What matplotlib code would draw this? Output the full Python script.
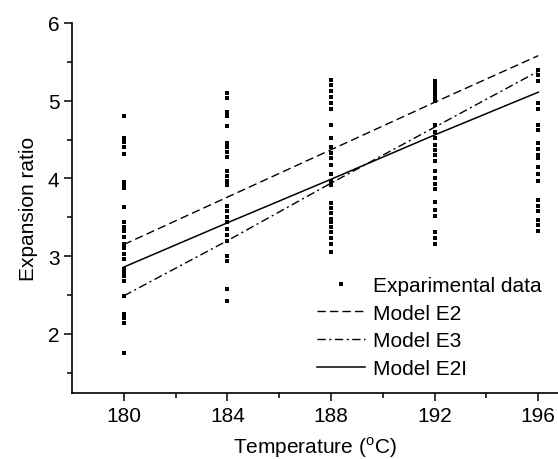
import numpy as np
import matplotlib
matplotlib.use("Agg")
import matplotlib.pyplot as plt

plt.rcParams['font.family'] = ['Liberation Sans', 'DejaVu Sans']
plt.rcParams['mathtext.fontset'] = 'custom'
plt.rcParams['mathtext.rm'] = 'Liberation Sans'

# experimental data (expansion ratio at each temperature)
exp_180 = [4.81, 4.52, 4.47, 4.40, 4.31, 3.96, 3.92, 3.88, 3.63, 3.44, 3.38, 3.32,
           3.25, 3.16, 3.10, 3.03, 2.97, 2.84, 2.79, 2.74, 2.68, 2.49, 2.26, 2.21,
           2.14, 1.76]
exp_184 = [5.10, 5.04, 4.86, 4.81, 4.67, 4.45, 4.40, 4.34, 4.28, 4.10, 4.03, 3.97,
           3.91, 3.64, 3.58, 3.50, 3.44, 3.35, 3.27, 3.20, 3.00, 2.94, 2.58, 2.43]
exp_188 = [5.27, 5.20, 5.12, 5.05, 4.97, 4.90, 4.69, 4.52, 4.41, 4.33, 4.26, 4.17,
           4.06, 3.97, 3.91, 3.68, 3.62, 3.55, 3.48, 3.44, 3.38, 3.31, 3.24, 3.16,
           3.06]
exp_192 = [5.25, 5.20, 5.15, 5.10, 5.05, 5.00, 4.69, 4.60, 4.52, 4.43, 4.36, 4.30,
           4.22, 4.09, 4.00, 3.93, 3.87, 3.70, 3.60, 3.52, 3.31, 3.23, 3.16]
exp_196 = [5.39, 5.33, 5.25, 4.97, 4.90, 4.69, 4.62, 4.45, 4.38, 4.30, 4.26, 4.15,
           4.06, 3.97, 3.72, 3.65, 3.58, 3.46, 3.40, 3.33]

temps = [180, 184, 188, 192, 196]
model_e2 = [3.15, 3.76, 4.37, 4.98, 5.58]
model_e3 = [2.49, 3.20, 3.94, 4.66, 5.38]
model_e2i = [2.86, 3.43, 3.99, 4.56, 5.11]

exp_x = []
exp_y = []
for t, vals in zip(temps, [exp_180, exp_184, exp_188, exp_192, exp_196]):
    exp_x += [t] * len(vals)
    exp_y += vals

fs = 15

fig = plt.figure(figsize=(5.58, 4.6), dpi=100)
# left spine at x=72 px, bottom at y=394 px, top at y=24 px
ax = fig.add_axes([72 / 558, 1 - 394 / 460, 1 - 72 / 558, (394 - 24) / 460])

ax.plot(exp_x, exp_y, 's', color='black', markersize=2.4, markeredgewidth=0,
        linestyle='none', label='Exparimental data')
ax.plot(temps, model_e2, color='black', lw=1.0, dashes=(6, 3), label='Model E2')
ax.plot(temps, model_e3, color='black', lw=1.0, dashes=(6, 2.5, 1.5, 2.5), label='Model E3')
ax.plot(temps, model_e2i, color='black', lw=1.1, label='Model E2I')

ax.set_xlim(178, 196.76)
ax.set_ylim(1.24, 6)
ax.set_xticks([180, 184, 188, 192, 196])
ax.set_xticks([182, 186, 190, 194], minor=True)
ax.set_yticks([2, 3, 4, 5, 6])
ax.set_yticks([1.5, 2.5, 3.5, 4.5, 5.5], minor=True)
ax.tick_params(which='major', direction='out', length=6, width=1.1, labelsize=fs, pad=3)
ax.tick_params(which='minor', direction='out', length=3.5, width=1.1)
ax.spines['top'].set_visible(False)
ax.spines['right'].set_visible(False)
ax.spines['left'].set_linewidth(1.2)
ax.spines['bottom'].set_linewidth(1.2)

ax.set_xlabel('Temperature ($^{\\mathrm{o}}$C)', fontsize=fs, labelpad=7)
ax.set_ylabel('Expansion ratio', fontsize=fs, labelpad=7)

ax.legend(loc='center left', bbox_to_anchor=(307 / 558, 1 - 328 / 460),
          bbox_transform=fig.transFigure, frameon=False, borderpad=0,
          fontsize=fs, handlelength=2.3, handletextpad=0.35,
          labelspacing=0.42, markerscale=1.0)

fig.savefig('out.png', dpi=100)
